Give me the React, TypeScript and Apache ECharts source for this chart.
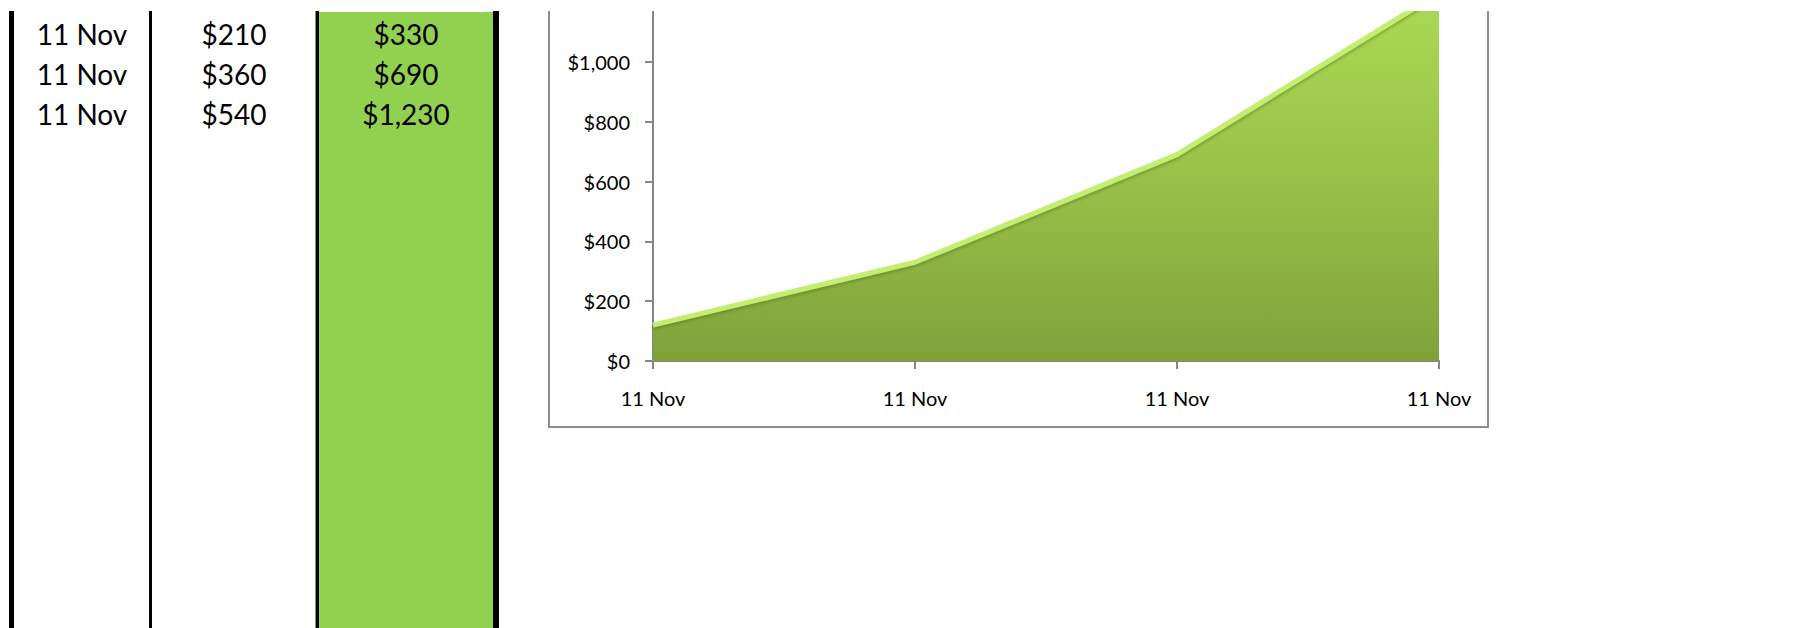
import React, { useEffect, useRef } from "react";
import * as echarts from "echarts";

const chartCategories = ["11 Nov", "11 Nov", "11 Nov", "11 Nov"];
const chartValues = [120, 330, 690, 1230];
const yMin = 0;
const yMax = 1200;
const yInterval = 200;

const tableDates = ["11 Nov", "11 Nov", "11 Nov"];
const tableAmounts = [210, 360, 540];
const tableTotals = [330, 690, 1230];

const money = (v: number) => "$" + Math.round(v).toLocaleString("en-US");

export default function App() {
  const ref = useRef<HTMLDivElement>(null);

  useEffect(() => {
    if (!ref.current) return;
    const chart = echarts.init(ref.current, undefined, { renderer: "svg" });

    const colX = [82, 234, 406];
    const rowY = [34, 74, 114];
    const tableFont = '28px Lato';
    const textEls: any[] = [];
    tableDates.forEach((d, i) => {
      const cells = [d, money(tableAmounts[i]), money(tableTotals[i])];
      cells.forEach((t, j) => {
        textEls.push({
          type: "text",
          z: 10,
          style: {
            text: t,
            x: colX[j],
            y: rowY[i],
            font: tableFont,
            fill: "#000",
            textAlign: "center",
            textVerticalAlign: "middle",
          },
        });
      });
    });

    const option: any = {
      animation: false,
      backgroundColor: "#fff",
      grid: { left: 653, right: 1797 - 1439, top: 2, height: 359, containLabel: false },
      xAxis: {
        type: "category",
        data: chartCategories,
        boundaryGap: false,
        axisLine: { lineStyle: { color: "#868686", width: 2 } },
        axisTick: { show: true, length: 8, lineStyle: { color: "#868686", width: 2 } },
        axisLabel: { color: "#000", fontFamily: "Lato", fontSize: 20, margin: 27 },
        splitLine: { show: false },
      },
      yAxis: {
        type: "value",
        min: yMin,
        max: yMax,
        interval: yInterval,
        axisLine: { show: true, lineStyle: { color: "#868686", width: 2 } },
        axisTick: { show: true, length: 8, lineStyle: { color: "#868686", width: 2 } },
        axisLabel: {
          color: "#000",
          fontFamily: "Lato",
          fontSize: 20,
          margin: 23,
          showMaxLabel: false,
          formatter: (v: number) => money(v),
        },
        splitLine: { show: false },
      },
      series: [
        {
          type: "line",
          data: chartValues,
          symbol: "none",
          clip: true,
          lineStyle: {
            color: "#c3ee72",
            width: 5,
            shadowColor: "rgba(80,110,20,0.5)",
            shadowBlur: 3,
            shadowOffsetY: 2,
          },
          areaStyle: {
            opacity: 1,
            color: new echarts.graphic.LinearGradient(0, 0, 0, 1, [
              { offset: 0, color: "#acda54" },
              { offset: 0.5, color: "#99c149" },
              { offset: 1, color: "#7fa239" },
            ]),
          },
          z: 3,
        },
      ],
      graphic: [
        { type: "rect", z: 5, shape: { x: 318, y: 12, width: 176, height: 640 }, style: { fill: "#92d050" } },
        { type: "rect", z: 6, shape: { x: 9, y: 11, width: 5, height: 640 }, style: { fill: "#000" } },
        { type: "rect", z: 6, shape: { x: 149, y: 11, width: 3, height: 640 }, style: { fill: "#000" } },
        { type: "rect", z: 6, shape: { x: 315, y: 11, width: 1, height: 640 }, style: { fill: "#888" } },
        { type: "rect", z: 6, shape: { x: 316, y: 11, width: 3, height: 640 }, style: { fill: "#000" } },
        { type: "rect", z: 6, shape: { x: 493, y: 11, width: 6, height: 640 }, style: { fill: "#000" } },
        ...textEls,
        {
          type: "rect",
          z: 20,
          shape: { x: 549, y: -20, width: 939, height: 447 },
          style: { fill: "none", stroke: "#8c8c8c", lineWidth: 2 },
        },
        {
          type: "rect",
          z: 30,
          shape: { x: 520, y: 0, width: 1000, height: 11 },
          style: { fill: "#fff" },
        },
      ],
    };

    chart.setOption(option);
    return () => chart.dispose();
  }, []);

  return (
    <div
      ref={ref}
      style={{ position: "fixed", left: 0, top: 0, width: 1797, height: 628 }}
    />
  );
}
